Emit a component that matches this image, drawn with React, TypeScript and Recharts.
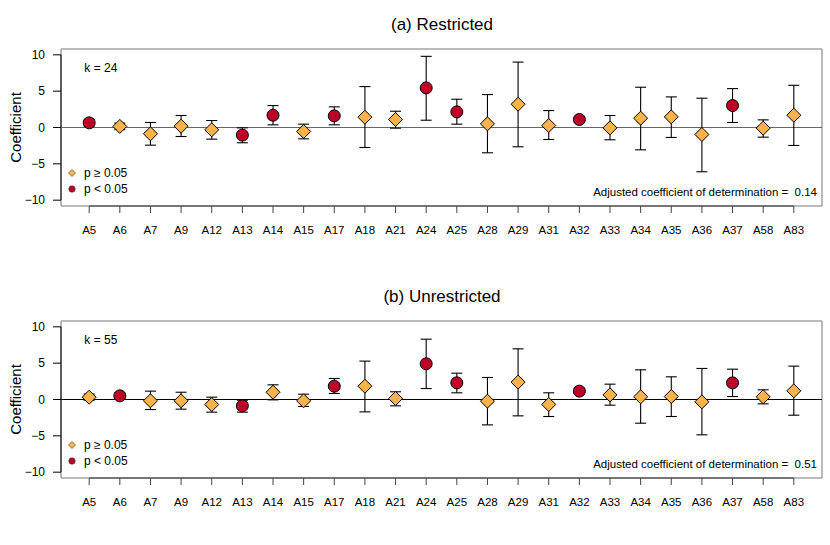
import React from "react";
import {ComposedChart, Scatter, XAxis, YAxis, ErrorBar, ReferenceLine, ReferenceArea, Legend} from "recharts";

const FONT = '"Liberation Sans", Arial, Helvetica, sans-serif';
const ORANGE = "#FEB24C";
const RED = "#BD0026";

const labels = ["A5", "A6", "A7", "A9", "A12", "A13", "A14", "A15", "A17", "A18", "A21", "A24",
  "A25", "A28", "A29", "A31", "A32", "A33", "A34", "A35", "A36", "A37", "A58", "A83"];
const yTicks = [-10, -5, 0, 5, 10];

// (a) restricted
const coefA = [0.64, 0.15, -0.87, 0.18, -0.32, -1.05, 1.69, -0.55, 1.6, 1.42, 1.1, 5.45,
  2.15, 0.5, 3.2, 0.27, 1.1, -0.05, 1.28, 1.46, -0.96, 3.02, -0.09, 1.69];
const lowA = [0.2, -0.3, -2.43, -1.24, -1.6, -2.1, 0.37, -1.56, 0.37, -2.75, -0.09, 1.0,
  0.46, -3.48, -2.65, -1.65, 0.7, -1.69, -3.07, -1.37, -6.09, 0.69, -1.33, -2.47];
const highA = [1.05, 0.6, 0.69, 1.65, 0.96, -0.05, 3.02, 0.46, 2.84, 5.63, 2.24, 9.79,
  3.89, 4.53, 9.0, 2.33, 1.5, 1.65, 5.54, 4.21, 4.03, 5.35, 1.05, 5.81];
const sigA = [1, 0, 0, 0, 0, 1, 1, 0, 1, 0, 0, 1, 1, 0, 0, 0, 1, 0, 0, 0, 0, 1, 0, 0];

// (b) unrestricted
const coefB = [0.32, 0.5, -0.18, -0.18, -0.69, -0.87, 1.0, -0.18, 1.83, 1.83, 0.14, 4.91,
  2.29, -0.23, 2.39, -0.69, 1.15, 0.64, 0.37, 0.41, -0.32, 2.29, 0.37, 1.19];
const lowB = [-0.1, 0.1, -1.38, -1.33, -1.74, -1.74, -0.05, -0.96, 0.83, -1.7, -0.87, 1.51,
  0.92, -3.49, -2.25, -2.34, 0.75, -0.78, -3.26, -2.34, -4.86, 0.41, -0.6, -2.16];
const highB = [0.75, 0.9, 1.15, 1.0, 0.32, -0.1, 2.02, 0.73, 2.89, 5.28, 1.06, 8.3,
  3.62, 3.03, 6.97, 0.92, 1.55, 2.11, 4.08, 3.12, 4.27, 4.17, 1.33, 4.59];
const sigB = [0, 1, 0, 0, 0, 1, 0, 0, 1, 0, 0, 1, 1, 0, 0, 0, 1, 0, 0, 0, 0, 1, 0, 0];

const X_MIN = 0.08;
const X_MAX = 24.92;
const Y_MIN = -10.8;
const Y_MAX = 10.8;

const Diamond = (props: any) => {
  const {cx, cy} = props;
  if (cx == null || cy == null) return <g />;
  const r = 7;
  return (
    <polygon
      points={`${cx},${cy - r} ${cx + r},${cy} ${cx},${cy + r} ${cx - r},${cy}`}
      fill={ORANGE}
      stroke="#000"
      strokeWidth={1}
    />
  );
};

const Dot = (props: any) => {
  const {cx, cy} = props;
  if (cx == null || cy == null) return <g />;
  return <circle cx={cx} cy={cy} r={6} fill={RED} stroke="#000" strokeWidth={1} />;
};

const LegendBox = (props: any) => {
  const items = [...(props.payload || [])].sort((a: any, b: any) =>
    a.type === "diamond" ? -1 : b.type === "diamond" ? 1 : 0);
  return (
    <div style={{fontFamily: FONT, fontSize: 12, color: "#000"}}>
      {items.map((it: any) => (
        <div key={it.value} style={{display: "flex", alignItems: "center", height: 16.6}}>
          <svg width={12} height={12} style={{marginRight: 6}}>
            {it.type === "diamond" ? (
              <polygon points="6,2.5 9.5,6 6,9.5 2.5,6" fill={ORANGE} stroke="#333" strokeWidth={0.6} />
            ) : (
              <circle cx={6} cy={6} r={3.2} fill={RED} stroke="#333" strokeWidth={0.6} />
            )}
          </svg>
          <span>{it.value}</span>
        </div>
      ))}
    </div>
  );
};

const fmtY = (v: number) => (v < 0 ? `\u2212${-v}` : `${v}`);

type PanelProps = {
  title: string;
  coef: number[];
  low: number[];
  high: number[];
  sig: number[];
  k: number;
  r2: string;
  zeroColor: string;
};

const Panel = ({title, coef, low, high, sig, k, r2, zeroColor}: PanelProps) => {
  const rows = labels.map((l, i) => ({
    x: i + 1,
    y: coef[i],
    err: [coef[i] - low[i], high[i] - coef[i]],
    sig: sig[i] === 1,
  }));
  const ns = rows.filter(r => !r.sig);
  const s = rows.filter(r => r.sig);

  return (
    <div style={{position: "relative", width: 830, height: 272, fontFamily: FONT}}>
      <div
        style={{position: "absolute", top: 16, left: 0, width: 884, textAlign: "center",
          fontSize: 17, lineHeight: "17px", color: "#000"}}
      >
        {title}
      </div>
      <ComposedChart width={830} height={272} margin={{top: 49, right: 8, bottom: 36, left: 11}}>
        <XAxis
          type="number"
          dataKey="x"
          domain={[X_MIN, X_MAX]}
          allowDataOverflow
          ticks={labels.map((_, i) => i + 1)}
          interval={0}
          tickFormatter={(v: number) => labels[v - 1]}
          axisLine={false}
          tickLine={{stroke: "#444"}}
          tickSize={7}
          tickMargin={13}
          height={30}
          tick={{fontSize: 11.5, fill: "#000", fontFamily: FONT}}
        />
        <YAxis
          type="number"
          dataKey="y"
          domain={[Y_MIN, Y_MAX]}
          allowDataOverflow
          ticks={yTicks}
          interval={0}
          tickFormatter={fmtY}
          axisLine={false}
          tickLine={{stroke: "#000"}}
          tickSize={8}
          tickMargin={8}
          width={50}
          tick={{fontSize: 12, fill: "#000", fontFamily: FONT}}
          label={{
            value: "Coefficient",
            angle: -90,
            position: "insideLeft",
            offset: 5,
            style: {textAnchor: "middle", fontSize: 15, fill: "#000", fontFamily: FONT},
          }}
        />
        <ReferenceArea x1={X_MIN} x2={X_MAX} y1={Y_MIN} y2={Y_MAX} fill="none" stroke="#777" strokeWidth={1} />
        <ReferenceLine segment={[{x: X_MIN, y: -10}, {x: X_MIN, y: 10}]} stroke="#000" />
        <ReferenceLine segment={[{x: 1, y: Y_MIN}, {x: 24, y: Y_MIN}]} stroke="#333" />
        <ReferenceLine y={0} stroke={zeroColor} strokeWidth={1} />
        <Legend
          layout="horizontal"
          align="center"
          verticalAlign="middle"
          content={<LegendBox />}
          wrapperStyle={{position: "absolute", left: 66, top: 164.4, width: "auto", height: "auto"}}
        />
        <Scatter
          name={"p \u2265 0.05"}
          data={ns}
          legendType="diamond"
          fill={ORANGE}
          shape={<Diamond />}
          isAnimationActive={false}
        >
          <ErrorBar dataKey="err" direction="y" width={5.5} stroke="#000" strokeWidth={1.1} />
        </Scatter>
        <Scatter
          name="p < 0.05"
          data={s}
          legendType="circle"
          fill={RED}
          shape={<Dot />}
          isAnimationActive={false}
        >
          <ErrorBar dataKey="err" direction="y" width={5.5} stroke="#000" strokeWidth={1.1} />
        </Scatter>
      </ComposedChart>
      <div style={{position: "absolute", left: 84.3, top: 61.7, fontSize: 12, lineHeight: "12px", color: "#000"}}>
        k = {k}
      </div>
      <div
        style={{position: "absolute", right: 13, top: 186.8, fontSize: 11.5, lineHeight: "11.5px",
          color: "#000", whiteSpace: "pre"}}
      >
        {`Adjusted coefficient of determination =  ${r2}`}
      </div>
    </div>
  );
};

export default function App() {
  return (
    <div style={{position: "absolute", left: 0, top: 0, width: 830, height: 545, background: "#fff"}}>
      <Panel title="(a) Restricted" coef={coefA} low={lowA} high={highA} sig={sigA} k={24} r2="0.14" zeroColor="#666" />
      <Panel title="(b) Unrestricted" coef={coefB} low={lowB} high={highB} sig={sigB} k={55} r2="0.51" zeroColor="#000" />
    </div>
  );
}
